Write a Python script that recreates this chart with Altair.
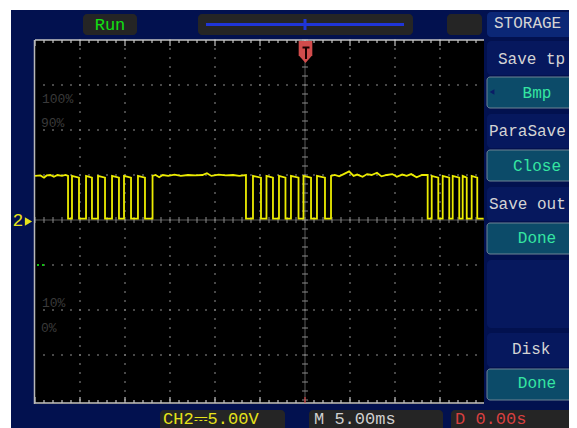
import altair as alt
import pandas as pd

# ---------------- data ----------------
# CH2 trace: time in ms (5 ms/div, trigger at 0 ms), level in V (5 V/div)
wave_t = [
    -30.0, -29.4, -29.0, -28.7, -28.3, -27.9, -27.5, -27.0, -26.6, -26.33,
    -26.33, -25.89, -25.89, -25.11, -25.11, -24.33, -24.33, -23.67, -23.67, -23.0,
    -23.0, -22.22, -22.22, -21.44, -21.44, -20.67, -20.67, -20.11, -20.11, -19.33,
    -19.33, -18.56, -18.56, -17.78, -17.78, -16.94, -16.94,
    -16.6, -16.2, -15.8, -15.2, -14.5, -13.8, -13.0, -12.2, -11.4, -10.9,
    -10.4, -9.6, -8.8, -8.0, -7.3, -6.56,
    -6.56, -5.78, -5.78, -4.89, -4.89, -4.28, -4.28, -3.56, -3.56, -2.89,
    -2.89, -2.17, -2.17, -1.56, -1.56, -0.72, -0.72, -0.17, -0.17, 0.67,
    0.67, 1.33, 1.33, 2.22, 2.22, 2.89, 2.89,
    3.3, 3.8, 4.3, 4.9, 5.4, 5.8, 6.4, 6.9, 7.4, 8.0,
    8.5, 9.1, 9.7, 10.2, 10.8, 11.3, 11.8, 12.4, 13.0, 13.63,
    13.63, 14.08, 14.08, 14.81, 14.81, 15.30, 15.30, 16.03, 16.03, 16.41,
    16.41, 17.14, 17.14, 17.52, 17.52, 17.97, 17.97, 18.52, 18.52, 19.14,
    19.14, 19.85,
]
wave_v = [
    4.9, 4.95, 4.7, 4.95, 5.0, 4.8, 5.0, 4.9, 5.0, 4.9,
    0.15, 0.15, 4.9, 4.7, 0.15, 0.15, 4.9, 4.7, 0.15, 0.15,
    4.9, 4.7, 0.15, 0.15, 4.9, 4.7, 0.15, 0.15, 4.9, 4.7,
    0.15, 0.15, 4.9, 4.7, 0.15, 0.15, 4.9,
    5.0, 4.75, 5.0, 4.9, 5.05, 4.9, 5.0, 4.95, 5.0, 5.2,
    4.9, 5.05, 4.95, 5.0, 4.9, 5.0,
    0.15, 0.15, 4.9, 4.7, 0.15, 0.15, 4.9, 4.7, 0.15, 0.15,
    4.9, 4.7, 0.15, 0.15, 4.9, 4.7, 0.15, 0.15, 4.9, 4.7,
    0.15, 0.15, 4.9, 4.7, 0.15, 0.15, 4.9,
    5.0, 4.85, 5.1, 5.4, 4.9, 5.05, 4.8, 5.1, 5.0, 5.25,
    4.85, 5.0, 5.1, 4.8, 5.05, 4.9, 5.1, 4.75, 5.0, 5.0,
    0.15, 0.15, 4.9, 4.7, 0.15, 0.15, 4.9, 4.7, 0.15, 0.15,
    4.9, 4.7, 0.15, 0.15, 4.9, 4.7, 0.15, 0.15, 4.9, 4.7,
    0.15, 0.15,
]

menu_title = "STORAGE"
menu_labels = ["Save tp", "ParaSave", "Save out", "Disk"]
menu_values = ["Bmp", "Close", "Done", "Done"]
pct_labels = ["100%", "90%", "10%", "0%"]
status_run = "Run"
status_ch2 = "CH2⎓5.00V"
status_time = "M 5.00ms"
status_delay = "D 0.00s"

# ---------------- layout helpers (screen px -> scope units) ----------------
X0, Y0, PXD = 305.0, 220.0, 9.0


def tx(px):
    return (px - X0) / PXD


def vy(py):
    return (Y0 - py) / PXD


PLOT_W = 534  # 35 px .. 569 px on the page
XS = alt.Scale(domain=[-30, -30 + PLOT_W / PXD], nice=False, zero=False)
YS = alt.Scale(domain=[-20, 20], nice=False, zero=False)

NAVY = "#02114f"
DARK = "#252525"
LABEL_BOX = "#06185e"
TITLE_BOX = "#0b2776"
TEAL = "#0c4b69"
GRID = "#7a7a7a"
FONT = "Liberation Mono"


def rect_df(rows):
    return pd.DataFrame(
        [dict(x=tx(a), x2=tx(c), y=vy(b), y2=vy(d), c=col) for a, b, c, d, col in rows]
    )


def rect_layer(rows, **kw):
    return alt.Chart(rect_df(rows)).mark_rect(clip=False, **kw).encode(
        x=alt.X("x:Q", scale=XS, axis=None),
        x2="x2:Q",
        y=alt.Y("y:Q", scale=YS, axis=None),
        y2="y2:Q",
        color=alt.Color("c:N", scale=None),
    )


def rule_layer(rows):
    df = pd.DataFrame(rows, columns=["x", "y", "x2", "y2", "c", "w"])
    return alt.Chart(df).mark_rule(clip=False).encode(
        x=alt.X("x:Q", scale=XS, axis=None),
        x2="x2:Q",
        y=alt.Y("y:Q", scale=YS, axis=None),
        y2="y2:Q",
        color=alt.Color("c:N", scale=None),
        strokeWidth=alt.StrokeWidth("w:Q", scale=None),
    )


def text_layer(rows, align):
    df = pd.DataFrame(
        [dict(x=tx(a), y=vy(b), t=s, c=col, s=fs) for a, b, s, col, fs in rows]
    )
    return alt.Chart(df).mark_text(
        clip=False, align=align, baseline="middle", font=FONT
    ).encode(
        x=alt.X("x:Q", scale=XS, axis=None),
        y=alt.Y("y:Q", scale=YS, axis=None),
        text="t:N",
        color=alt.Color("c:N", scale=None),
        size=alt.Size("s:Q", scale=None),
    )


layers = []

# background and screen
layers.append(rect_layer([(11, 10, 600, 440, NAVY)]))
layers.append(rect_layer([(35, 40, 484, 404, "#000000")]))

# dotted grid
dots = []
for col in [-25, -20, -15, -10, -5, 5, 10, 15]:
    for k in range(-20, 21):
        dots.append(dict(x=col, y=k))
for row in [-15, -10, -5, 5, 10, 15]:
    for k in range(-29, 20):
        dots.append(dict(x=k, y=row))
layers.append(
    alt.Chart(pd.DataFrame(dots)).mark_square(size=2.5, color=GRID, opacity=1).encode(
        x=alt.X("x:Q", scale=XS, axis=None), y=alt.Y("y:Q", scale=YS, axis=None)
    )
)

# centre cross with minor ticks, rulers and border
rules = []
rules.append((tx(35), 0, tx(484), 0, "#5a5a5a", 1))
rules.append((0, vy(40), 0, vy(403), "#5a5a5a", 1))
for k in range(-30, 20):
    rules.append((k, 0.33, k, -0.33, "#8c8c8c", 1))
for k in range(-20, 21):
    rules.append((-0.33, k, 0.33, k, "#8c8c8c", 1))
# top and bottom rulers
rules.append((tx(35), vy(40), tx(484), vy(40), "#c4c4c4", 1.5))
rules.append((tx(35), vy(403), tx(484), vy(403), "#c4c4c4", 1.5))
for k in range(-30, 20):
    ln = 6 if k % 5 == 0 else 3
    rules.append((k, vy(40), k, vy(40 + ln), "#c4c4c4", 1.2))
    rules.append((k, vy(403), k, vy(403 - ln), "#d04040" if k == 0 else "#c4c4c4", 1.2))
rules.append((tx(34.5), vy(40), tx(34.5), vy(404), "#b8b8b8", 1.5))
layers.append(rule_layer(rules))

# faint percentage marks
layers.append(
    text_layer(
        [
            (42, 99, pct_labels[0], "#3a3a3a", 13),
            (41, 123, pct_labels[1], "#3a3a3a", 13),
            (42, 303, pct_labels[2], "#3a3a3a", 13),
            (41, 328, pct_labels[3], "#3a3a3a", 13),
        ],
        "left",
    )
)
layers.append(
    alt.Chart(pd.DataFrame({"x": [tx(38), tx(43)], "y": [vy(265), vy(265)]}))
    .mark_square(size=4, color="#10c010", opacity=1)
    .encode(x=alt.X("x:Q", scale=XS, axis=None), y=alt.Y("y:Q", scale=YS, axis=None))
)

# the CH2 trace
wave = pd.DataFrame({"t": wave_t, "v": wave_v, "i": list(range(len(wave_t)))})
layers.append(
    alt.Chart(wave).mark_line(color="#ecec00", strokeWidth=1.8, clip=False).encode(
        x=alt.X("t:Q", scale=XS, axis=None),
        y=alt.Y("v:Q", scale=YS, axis=None),
        order="i:Q",
    )
)

# top / bottom status boxes
layers.append(
    rect_layer(
        [
            (83, 14, 137, 35, DARK),
            (198, 14, 413, 35, DARK),
            (447, 14, 482, 35, DARK),
            (160, 410, 285, 440, DARK),
            (309, 410, 443, 440, DARK),
            (451, 410, 600, 440, DARK),
        ],
        cornerRadius=4,
    )
)
# timebase bar
layers.append(
    rule_layer(
        [
            (tx(206), vy(24.5), tx(404), vy(24.5), "#1f35d8", 3),
            (tx(305), vy(19), tx(305), vy(30), "#1f35d8", 3),
        ]
    )
)

# right-hand menu
slots = [40, 113, 186, 332]
menu_rects = [(487, 12, 600, 37, TITLE_BOX), (487, 260, 600, 328, LABEL_BOX)]
for s in slots:
    menu_rects.append((487, s + 1, 600, s + 35, LABEL_BOX))
layers.append(rect_layer(menu_rects, cornerRadius=4))
layers.append(
    rect_layer(
        [(487, s + 37, 600, s + 68, TEAL) for s in slots],
        cornerRadius=3,
        stroke="#6f8594",
        strokeWidth=1,
    )
)
layers.append(
    alt.Chart(pd.DataFrame({"x": [tx(492)], "y": [vy(92)]}))
    .mark_point(shape="triangle-left", size=30, filled=True, color="#0a1c66", opacity=1)
    .encode(x=alt.X("x:Q", scale=XS, axis=None), y=alt.Y("y:Q", scale=YS, axis=None))
)

MENU_TXT = "#d4d4d4"
VAL_TXT = "#35e6a2"
layers.append(
    text_layer(
        [
            (494, 23, menu_title, MENU_TXT, 16),
            (498, 59, menu_labels[0], MENU_TXT, 16),
            (489, 131, menu_labels[1], MENU_TXT, 16),
            (489, 204, menu_labels[2], MENU_TXT, 16),
            (512, 349, menu_labels[3], MENU_TXT, 16),
            (163, 419, status_ch2, "#e6e21a", 17),
            (314, 419, status_time, "#d0d0d0", 17),
            (455, 419, status_delay, "#d84040", 17),
        ],
        "left",
    )
)
layers.append(
    text_layer(
        [
            (110, 25, status_run, "#12e012", 17),
            (537, 93, menu_values[0], VAL_TXT, 16),
            (537, 166, menu_values[1], VAL_TXT, 16),
            (537, 238, menu_values[2], VAL_TXT, 16),
            (537, 383, menu_values[3], VAL_TXT, 16),
        ],
        "center",
    )
)

# trigger position marker
layers.append(
    alt.Chart(pd.DataFrame({"x": [tx(305.5)], "y": [vy(52)]}))
    .mark_point(
        shape="M-0.62,-1L0.62,-1L0.62,0.3L0,1L-0.62,0.3Z",
        size=484,
        filled=True,
        color="#d24c4c",
        opacity=1,
        clip=False,
    )
    .encode(x=alt.X("x:Q", scale=XS, axis=None), y=alt.Y("y:Q", scale=YS, axis=None))
)
layers.append(
    rule_layer(
        [
            (tx(302.5), vy(47.5), tx(309.5), vy(47.5), "#1a0000", 2),
            (tx(306), vy(47.5), tx(306), vy(59), "#1a0000", 2),
        ]
    )
)

# channel 2 ground marker
layers.append(text_layer([(18, 221, "2", "#e6e21a", 18)], "center"))
layers.append(
    alt.Chart(pd.DataFrame({"x": [tx(28.5)], "y": [vy(221.5)]}))
    .mark_point(shape="triangle-right", size=70, filled=True, color="#e6e21a", opacity=1, clip=False)
    .encode(x=alt.X("x:Q", scale=XS, axis=None), y=alt.Y("y:Q", scale=YS, axis=None))
)

chart = (
    alt.layer(*layers)
    .properties(
        width=PLOT_W,
        height=360,
        padding={"left": 27, "top": 32, "right": 0, "bottom": 28},
        autosize=alt.AutoSizeParams(type="none"),
        background="white",
    )
    .configure_view(stroke=None)
)

chart.save("out.html", embed_options={"renderer": "svg", "actions": False})
